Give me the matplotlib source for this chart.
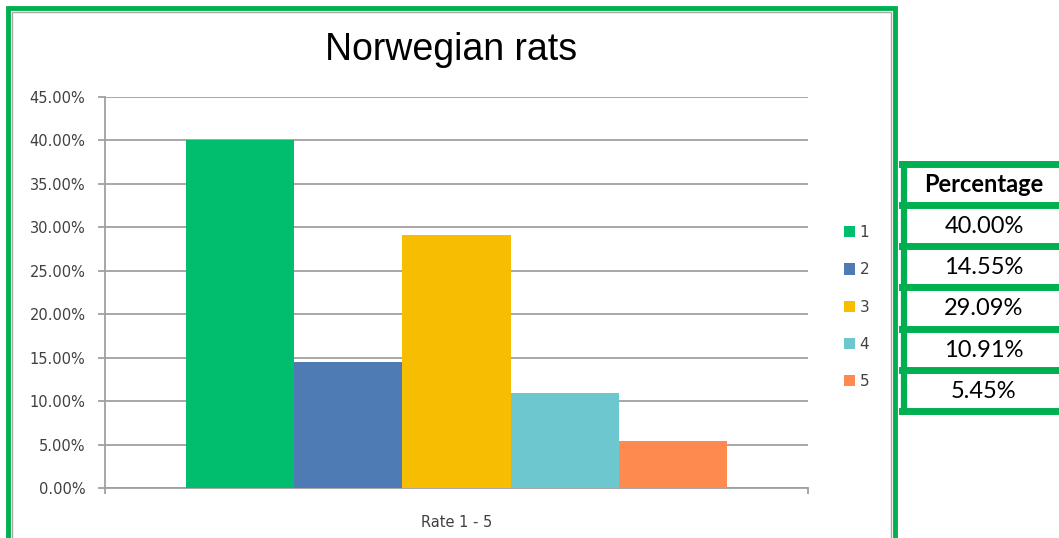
import matplotlib
matplotlib.use("Agg")
import matplotlib.pyplot as plt
from matplotlib.patches import Rectangle
from matplotlib.lines import Line2D
from matplotlib.ticker import PercentFormatter

W, H = 1059, 538

RATES = ["1", "2", "3", "4", "5"]
SHARES = [0.4000, 0.1455, 0.2909, 0.1091, 0.0545]
BAR_COLORS = ["#00BE6E", "#4F7BB4", "#F7BD00", "#6CC8CE", "#FF8A50"]
TABLE_HEADER = "Percentage"
FRAME_GREEN = "#00B050"


def fx(px):
    return px / W


def fy(py):
    return 1 - py / H


fig = plt.figure(figsize=(W / 100, H / 100), dpi=100)

# chart area frame
fig.add_artist(Rectangle((fx(12), fy(540)), fx(891) - fx(12), fy(12) - fy(540),
                         transform=fig.transFigure, fill=False, ec="#a6a6a6", lw=1))
fig.add_artist(Rectangle((fx(8), fy(560)), fx(895) - fx(8), fy(8) - fy(560),
                         transform=fig.transFigure, fill=False, ec=FRAME_GREEN, lw=3.5))

ax = fig.add_axes([fx(105), fy(488), fx(808) - fx(105), fy(97) - fy(488)])
pos = list(range(-2, 3))
bars = ax.bar(pos, SHARES, width=1.0, color=BAR_COLORS, zorder=3, label=RATES)
ax.set_xlim(-3.25, 3.25)
ax.set_ylim(0, 0.45)
ax.set_yticks([i * 0.05 for i in range(10)])
ax.yaxis.set_major_formatter(PercentFormatter(1.0, decimals=2))
ax.set_xticks([-3.25, 3.25])
ax.set_xticklabels(["", ""])
ax.grid(axis="y", color="#a0a0a0", lw=1.3, zorder=0)
for s in ["top", "right"]:
    ax.spines[s].set_visible(False)
for s in ["left", "bottom"]:
    ax.spines[s].set_color("#a0a0a0")
    ax.spines[s].set_linewidth(1.3)
ax.tick_params(axis="y", length=5, width=1.3, color="#a0a0a0", pad=9,
               labelsize=10.5, labelcolor="#404040")
ax.tick_params(axis="x", length=4, width=1.3, color="#a0a0a0")
ax.set_xlabel("Rate 1 - 5", fontsize=10.5, color="#404040", labelpad=12)

fig.text(fx(451), fy(50), "Norwegian rats", ha="center", va="center",
         fontsize=27, family="Liberation Sans", color="black")

ax.legend(bars, RATES, loc="center left", bbox_to_anchor=(fx(836), fy(307)),
          bbox_transform=fig.transFigure, frameon=False, fontsize=11,
          handlelength=0.75, handleheight=0.75, handletextpad=0.3,
          labelspacing=1.45, borderpad=0, labelcolor="#404040")

# percentage table beside the chart
row_lines = [163.5, 204.5, 246, 287, 328.5, 370, 411]
for y in row_lines:
    fig.add_artist(Line2D([fx(902), fx(1065)], [fy(y), fy(y)],
                          transform=fig.transFigure, color=FRAME_GREEN, lw=5))
fig.add_artist(Line2D([fx(904), fx(904)], [fy(161), fy(413.5)],
                      transform=fig.transFigure, color=FRAME_GREEN, lw=4.5,
                      solid_capstyle="butt"))
fig.text(fx(984), fy((row_lines[0] + row_lines[1]) / 2 + 1), TABLE_HEADER,
         ha="center", va="center", fontsize=17, fontweight="bold",
         family="Lato", color="black")
for i, v in enumerate(SHARES):
    yc = (row_lines[i + 1] + row_lines[i + 2]) / 2 + 1
    fig.text(fx(984), fy(yc), f"{v * 100:.2f}%", ha="center", va="center",
             fontsize=17, family="Lato", color="black")

fig.savefig("out.png", dpi=100)
